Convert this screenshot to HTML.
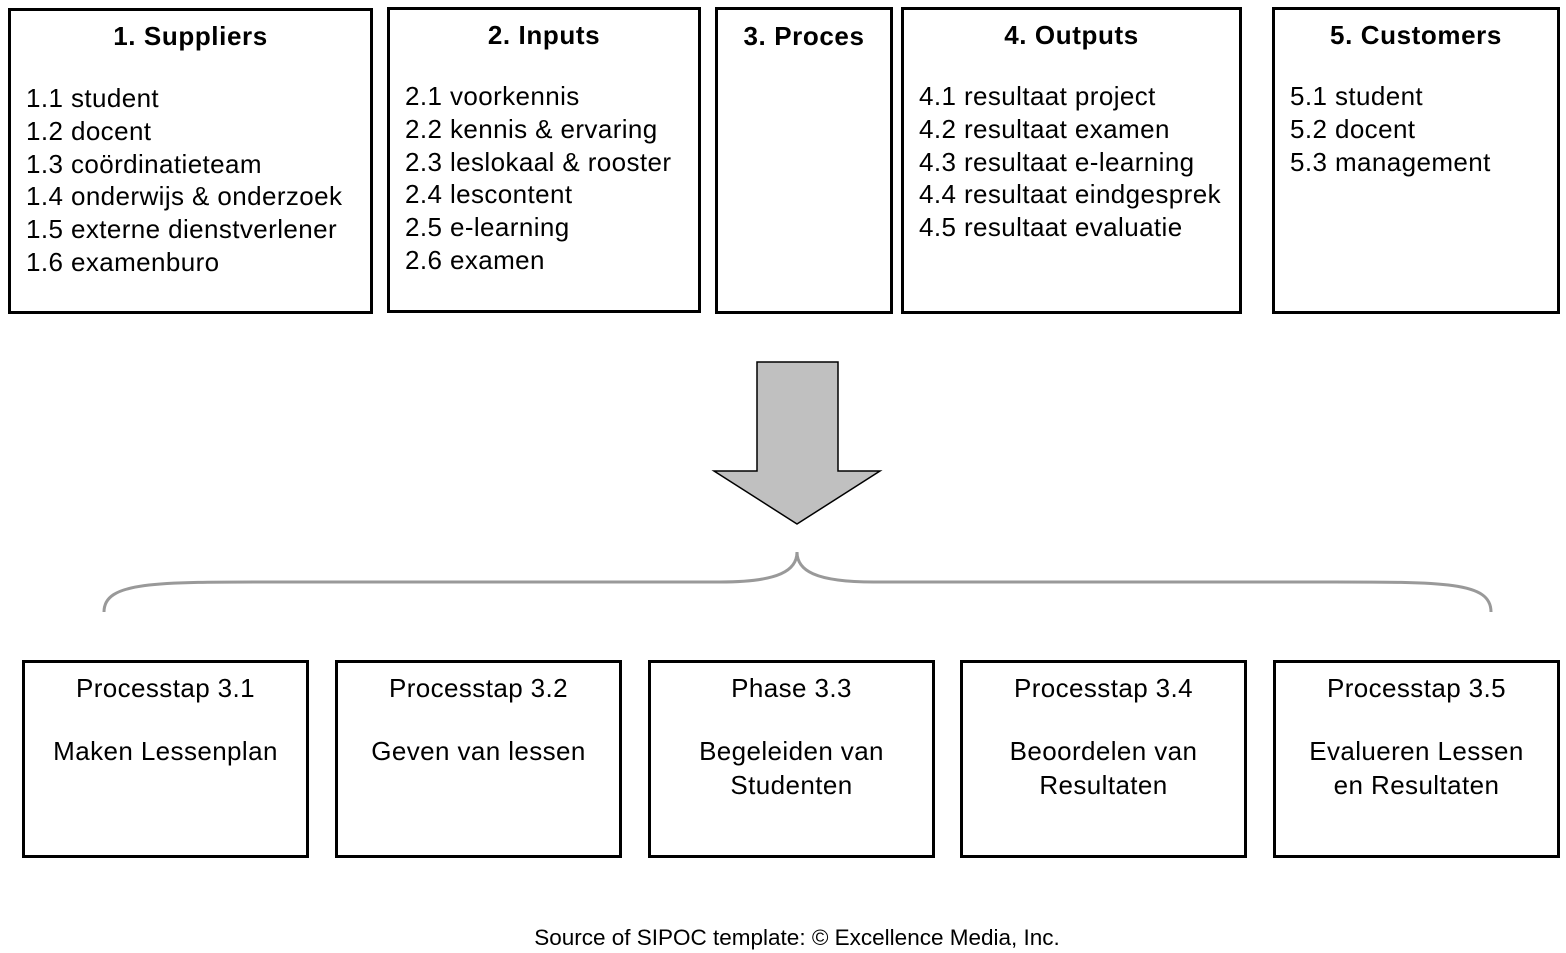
<!DOCTYPE html>
<html><head><meta charset="utf-8"><style>
body{margin:0;width:1566px;height:953px;background:#fff;position:relative;font-family:"Liberation Sans",Arial,sans-serif;color:#000;overflow:hidden}
.b{position:absolute;border:3px solid #000;box-sizing:border-box}
.h{font-weight:bold;font-size:26px;letter-spacing:0.6px;text-align:center;margin-top:10px}
.l{font-size:26px;letter-spacing:0.4px;line-height:32.8px;position:absolute;left:15px;top:71px;white-space:nowrap}
.p{font-size:26px;letter-spacing:0.4px;text-align:center;line-height:34px}
</style></head><body>
<div class="b" style="left:8px;top:8px;width:365px;height:306px"><div class="h">1. Suppliers</div>
<div class="l">1.1 student<br>1.2 docent<br>1.3 coördinatieteam<br>1.4 onderwijs &amp; onderzoek<br>1.5 externe dienstverlener<br>1.6 examenburo</div></div>
<div class="b" style="left:387px;top:7px;width:314px;height:306px"><div class="h">2. Inputs</div>
<div class="l" style="top:70px">2.1 voorkennis<br>2.2 kennis &amp; ervaring<br>2.3 leslokaal &amp; rooster<br>2.4 lescontent<br>2.5 e-learning<br>2.6 examen</div></div>
<div class="b" style="left:715px;top:7px;width:178px;height:307px"><div class="h" style="margin-top:11px">3. Proces</div></div>
<div class="b" style="left:901px;top:7px;width:341px;height:307px"><div class="h">4. Outputs</div>
<div class="l" style="top:70px">4.1 resultaat project<br>4.2 resultaat examen<br>4.3 resultaat e-learning<br>4.4 resultaat eindgesprek<br>4.5 resultaat evaluatie</div></div>
<div class="b" style="left:1272px;top:7px;width:288px;height:307px"><div class="h">5. Customers</div>
<div class="l" style="top:70px">5.1 student<br>5.2 docent<br>5.3 management</div></div>
<svg style="position:absolute;left:0;top:0" width="1566" height="953">
<polygon points="757,362 838,362 838,471 880,471 797,524 714,471 757,471" fill="#c0c0c0" stroke="#000" stroke-width="1.5"/>
<path d="M104,612 C104,580 160,582 300,582 L720,582 C780,582 797,570 797,552 C797,570 814,582 874,582 L1300,582 C1440,582 1491,580 1491,612" fill="none" stroke="#999" stroke-width="3"/>
</svg>
<div class="b" style="left:22px;top:660px;width:287px;height:198px"><div class="p" style="margin-top:8px">Processtap 3.1</div><div class="p" style="margin-top:29px">Maken Lessenplan</div></div>
<div class="b" style="left:335px;top:660px;width:287px;height:198px"><div class="p" style="margin-top:8px">Processtap 3.2</div><div class="p" style="margin-top:29px">Geven van lessen</div></div>
<div class="b" style="left:648px;top:660px;width:287px;height:198px"><div class="p" style="margin-top:8px">Phase 3.3</div><div class="p" style="margin-top:29px">Begeleiden van<br>Studenten</div></div>
<div class="b" style="left:960px;top:660px;width:287px;height:198px"><div class="p" style="margin-top:8px">Processtap 3.4</div><div class="p" style="margin-top:29px">Beoordelen van<br>Resultaten</div></div>
<div class="b" style="left:1273px;top:660px;width:287px;height:198px"><div class="p" style="margin-top:8px">Processtap 3.5</div><div class="p" style="margin-top:29px">Evalueren Lessen<br>en Resultaten</div></div>
<div style="position:absolute;left:0;width:1594px;top:925px;text-align:center;font-size:22.5px">Source of SIPOC template: © Excellence Media, Inc.</div>
</body></html>
